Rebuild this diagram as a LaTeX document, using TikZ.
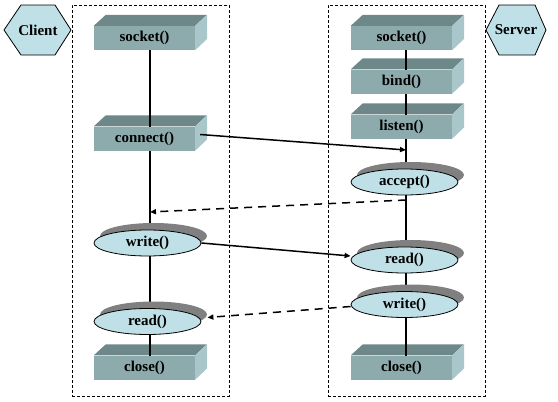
\documentclass[tikz,border=0pt]{standalone}
\usepackage{fontspec}
\setmainfont{Liberation Serif}
\usetikzlibrary{arrows.meta,shadows,shapes.geometric}
\pgfdeclarelayer{faces}
\pgfdeclarelayer{lines}
\pgfsetlayers{faces,lines,main}
\definecolor{frontc}{HTML}{8DAAAC}
\definecolor{topc}{HTML}{6E888A}
\definecolor{sidec}{HTML}{A9C6CA}
\definecolor{lightc}{HTML}{BEE0E6}
\definecolor{shadowc}{HTML}{808080}
\begin{document}
\begin{tikzpicture}[x=1pt,y=-1pt,
  every node/.style={font=\fontsize{15}{17}\selectfont\bfseries},
  cuboid/.style={rectangle, fill=frontc, minimum width=101pt, minimum height=24pt, inner sep=0pt},
  oval/.style={ellipse, draw=black, line width=0.8pt, fill=lightc, minimum width=107pt, minimum height=26pt, inner sep=0pt,
    drop shadow={shadow xshift=6pt, shadow yshift=7pt, fill=shadowc, opacity=1}},
  hexa/.style={draw=black, line width=0.8pt, fill=lightc},
  dbox/.style={draw=black, line width=0.8pt, dash pattern=on 3pt off 2pt, rectangle, inner sep=0pt},
  vline/.style={line width=2pt},
  solidarrow/.style={line width=1.5pt, -{Triangle[length=6pt,width=5pt]}},
  dasharrow/.style={line width=1.5pt, dash pattern=on 8pt off 6pt, -{Triangle[length=6pt,width=5pt]}}
]
\useasboundingbox (0,0) rectangle (558,402);

% dashed frames
\node[dbox, minimum width=157pt, minimum height=391pt] (cframe) at (150.5,200.5) {};
\node[dbox, minimum width=157pt, minimum height=391pt] (sframe) at (406.5,200.5) {};

% hexagons
\draw[hexa] (4,30) -- (21,5) -- (55,5) -- (71,30) -- (55,55) -- (21,55) -- cycle;
\node (client) at (38,30) {Client};
\draw[hexa] (486,30) -- (499,5) -- (535,5) -- (546,30) -- (535,55) -- (499,55) -- cycle;
\node (server) at (516,30) {Server};

% client column
\node[cuboid] (cs) at (144.5,38) {socket()};
\node[cuboid] (cc) at (144.5,138.5) {connect()};
\node[oval] (cw) at (147.5,243) {write()};
\node[oval] (cr) at (147.5,321.5) {read()};
\node[cuboid] (ccl) at (144.5,367.5) {close()};

% server column
\node[cuboid] (ss) at (401.5,38) {socket()};
\node[cuboid] (sb) at (401.5,81.5) {bind()};
\node[cuboid] (sl) at (401.5,126.5) {listen()};
\node[oval] (sa) at (404.5,182) {accept()};
\node[oval] (sr) at (404.5,260) {read()};
\node[oval] (sw) at (404.5,304.5) {write()};
\node[cuboid] (scl) at (401.5,367.5) {close()};

% 3D faces of the boxes
\begin{pgfonlayer}{faces}
\foreach \n in {cs,cc,ccl,ss,sb,sl,scl}{
  \fill[topc] (\n.north west) -- ++(12,-11) -- ++(101,0) -- (\n.north east) -- cycle;
  \fill[sidec] (\n.north east) -- ++(12,-11) -- ++(0,24) -- (\n.south east) -- cycle;
}
\end{pgfonlayer}

% vertical lines
\begin{pgfonlayer}{lines}
\draw[vline] ([xshift=5.5pt]cs.center) -- ([xshift=5.5pt]ccl.center);
\draw[vline] ([xshift=4.5pt]ss.center) -- ([xshift=4.5pt]scl.center);
\end{pgfonlayer}

% connection points on the lines
\coordinate (p1) at (406,150);
\coordinate (p2) at (406,200);
\coordinate (p3) at (150,212);

% messages
\draw[solidarrow] ([shift={(5pt,4pt)}]cc.east) -- (p1);
\draw[dasharrow] (p2) -- (p3);
\draw[solidarrow] (cw.east) -- ([yshift=4pt]sr.west);
\draw[dasharrow] ([yshift=-2pt]sw.west) -- ([shift={(6pt,4pt)}]cr.east);
\end{tikzpicture}
\end{document}
